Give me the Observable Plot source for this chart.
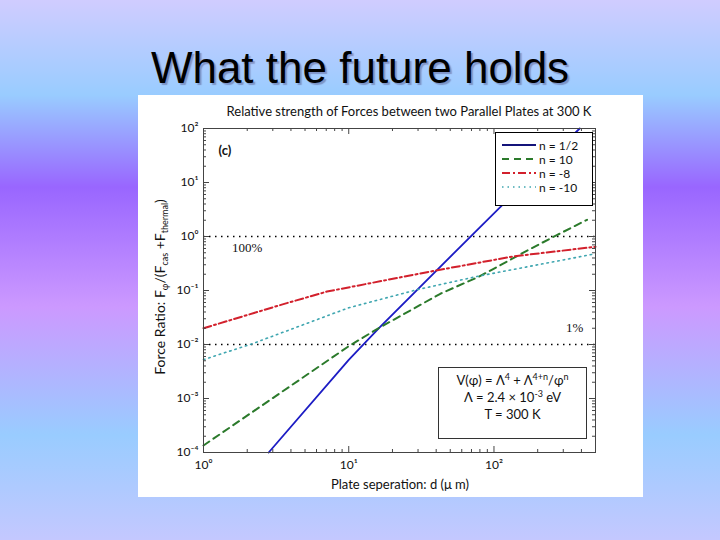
<!DOCTYPE html>
<html><head><meta charset="utf-8">
<script src="https://cdn.jsdelivr.net/npm/d3@7"></script>
<script src="https://cdn.jsdelivr.net/npm/@observablehq/plot@0.6"></script>
<style>
html,body{margin:0;padding:0;}
body{width:720px;height:540px;position:relative;overflow:hidden;
 background:linear-gradient(to bottom,#d0ccff 0px,#99ccff 95px,#9966ff 187px,#cc99ff 307px,#99ccff 435px,#c4c8ff 540px);
 font-family:Lato,"Liberation Sans",sans-serif;}
#slide-title{position:absolute;left:0;width:720px;top:46px;text-align:center;font-family:"Liberation Sans",Arial,sans-serif;font-size:44px;line-height:44px;color:#000;text-shadow:2px 2px 1px rgba(80,80,130,0.45);}
#panel{position:absolute;left:138px;top:95px;width:505px;height:402px;background:#fff;}
#panel svg{position:absolute;left:0;top:0;}
#ctitle{position:absolute;left:0;width:542px;top:8px;text-align:center;font-size:13px;color:#111;}
#ylab{position:absolute;left:21px;top:192px;width:320px;text-align:center;font-size:14px;color:#111;transform:translate(-50%,-50%) rotate(-90deg);white-space:nowrap;}
#xlab{position:absolute;left:262px;top:389px;transform:translate(-50%,-50%);font-size:13px;color:#111;white-space:nowrap;}
#legend{position:absolute;left:357px;top:37px;width:96px;height:67px;border:1px solid #000;background:#fff;padding-top:5px;box-sizing:content-box;}
#legend .row{height:14px;display:flex;align-items:center;font-size:12px;color:#111;}
#legend svg{position:static;margin-left:6px;margin-right:3px;}
#annot{position:absolute;left:300px;top:272px;width:149px;height:72px;border:1px solid #333;background:#fff;text-align:center;font-size:13px;color:#111;line-height:17px;padding-top:4px;box-sizing:border-box;}
#annot sup{font-size:9px;line-height:0;}
sub{font-size:9px;line-height:0;}
</style>
</head><body>
<div id="slide-title">What the future holds</div>
<div id="panel">
  <div id="ctitle">Relative strength of Forces between two Parallel Plates at 300 K</div>
  <div id="ylab">Force Ratio: F<sub>φ</sub>/(F<sub>cas</sub> +F<sub>thermal</sub>)</div>
  <div id="xlab">Plate seperation: d (μ m)</div>
</div>
<script>
// ---- data ----
const seriesLabels = ["n = 1/2", "n = 10", "n = -8", "n = -10"];
const blueD  = [2.81, 10, 16.2, 75.9, 123, 389];
const blueR  = [1e-4, 5.2e-3, 2.04e-2, 1.29, 4.68, 100];
const greenD = [1, 3.16, 10, 16.2, 42.7, 79.4, 178, 269, 437];
const greenR = [1.35e-4, 1.12e-3, 9.3e-3, 2.04e-2, 8.7e-2, 0.182, 0.589, 1.05, 2.04];
const redD   = [1, 3.55, 7.08, 38, 135, 500];
const redR   = [0.02, 0.056, 0.0955, 0.229, 0.427, 0.646];
const cyanD  = [1, 2.14, 10, 30.2, 79.4, 500];
const cyanR  = [5.25e-3, 1.02e-2, 4.79e-2, 0.105, 0.186, 0.479];
const refLevels = [1, 0.01];
const refText = ["100%", "1%"];
const refTextD = [2, 360];
const xMajor = [1, 10, 100];
const yMajor = [1e-4, 1e-3, 1e-2, 1e-1, 1, 10, 100];
const annotLines = ["V(φ) = Λ<sup>4</sup> + Λ<sup>4+n</sup>/φ<sup>n</sup>", "Λ = 2.4 × 10<sup>-3</sup>  eV", "T = 300 K"];

// ---- styles ----
const styles = [
  {stroke: "#1c1cc4", legend: "#14147a", dash: null, width: 1.8},
  {stroke: "#2b7a2b", legend: "#2b7a2b", dash: "7,5", width: 2},
  {stroke: "#d2202c", legend: "#d2202c", dash: "8,3,2,3", width: 2},
  {stroke: "#3fa6b0", legend: "#3fa6b0", dash: "1.5,4", width: 1.6}
];

const seriesData = [[blueD, blueR], [greenD, greenR], [redD, redR], [cyanD, cyanR]]
  .map(([ds, rs], i) => ds.map((d, j) => ({series: seriesLabels[i], d, r: rs[j]})));
const refRows = refText.map((t, i) => ({t, d: refTextD[i], r: refLevels[i]}));

const minorFrom = (lo, hi) => { const out = []; for (let e = lo; e < hi; e++) for (let k = 2; k <= 9; k++) out.push(k * 10 ** e); return out; };
const xMinor = minorFrom(0, 3).filter(v => v < 500);
const yMinor = minorFrom(-4, 2);

const supMap = {"-": "⁻", "0": "⁰", "1": "¹", "2": "²", "3": "³", "4": "⁴", "5": "⁵"};
const fmt = v => "10" + String(Math.round(Math.log10(v))).split("").map(c => supMap[c]).join("");

const W = 505, H = 402, mL = 65, mR = 48, mT = 33, mB = 45;
const fw = W - mL - mR, fh = H - mT - mB;
const big = 6, small = 3;

const marks = [
  Plot.ruleY(refLevels, {y: d => d, stroke: "#000", strokeWidth: 1.6, strokeDasharray: "1.5,4.5"}),
  Plot.text(refRows.slice(0, 1), {x: "d", y: "r", text: "t", dy: 11, fontFamily: "Liberation Serif, serif", fontSize: 13}),
  Plot.text(refRows.slice(1), {x: "d", y: "r", text: "t", dy: -17, fontFamily: "Liberation Serif, serif", fontSize: 13}),
  ...seriesData.map((rows, i) => Plot.line(rows, {x: "d", y: "r", stroke: styles[i].stroke, strokeWidth: styles[i].width, strokeDasharray: styles[i].dash, curve: "linear"})),
  Plot.tickX(xMajor, {x: d => d, insetTop: fh - big, stroke: "#444"}),
  Plot.tickX(xMajor, {x: d => d, insetBottom: fh - big, stroke: "#444"}),
  Plot.tickX(xMinor, {x: d => d, insetTop: fh - small, stroke: "#444"}),
  Plot.tickX(xMinor, {x: d => d, insetBottom: fh - small, stroke: "#444"}),
  Plot.tickY(yMajor, {y: d => d, insetRight: fw - big, stroke: "#444"}),
  Plot.tickY(yMajor, {y: d => d, insetLeft: fw - big, stroke: "#444"}),
  Plot.tickY(yMinor, {y: d => d, insetRight: fw - small, stroke: "#444"}),
  Plot.tickY(yMinor, {y: d => d, insetLeft: fw - small, stroke: "#444"}),
  Plot.frame({stroke: "#444"}),
  Plot.text(["(c)"], {frameAnchor: "top-left", dx: 15, dy: 22, textAnchor: "start", lineAnchor: "middle", fontWeight: "bold", fontSize: 13}),
  Plot.axisX(xMajor, {tickSize: 0, tickPadding: 8, tickFormat: fmt, fontSize: 12, label: null}),
  Plot.axisY(yMajor, {tickSize: 0, tickPadding: 5, tickFormat: fmt, fontSize: 12, label: null})
];

const chart = Plot.plot({
  width: W, height: H, marginLeft: mL, marginRight: mR, marginTop: mT, marginBottom: mB,
  style: {background: "transparent", fontFamily: "Lato, sans-serif", color: "#111"},
  x: {type: "log", domain: [1, 500]},
  y: {type: "log", domain: [1e-4, 100]},
  marks
});
const panel = document.getElementById("panel");
panel.appendChild(chart);

// legend
const legend = document.createElement("div");
legend.id = "legend";
seriesLabels.forEach((lab, i) => {
  const row = document.createElement("div");
  row.className = "row";
  const s = styles[i];
  row.innerHTML = `<svg width="34" height="10"><line x1="0" x2="34" y1="5" y2="5" stroke="${s.legend}" stroke-width="${s.width}" ${s.dash ? `stroke-dasharray="${s.dash}"` : ""}/></svg><span>${lab}</span>`;
  legend.appendChild(row);
});
panel.appendChild(legend);

const annot = document.createElement("div");
annot.id = "annot";
annot.innerHTML = annotLines.map(l => `<div>${l}</div>`).join("");
panel.appendChild(annot);
</script>
</body></html>
